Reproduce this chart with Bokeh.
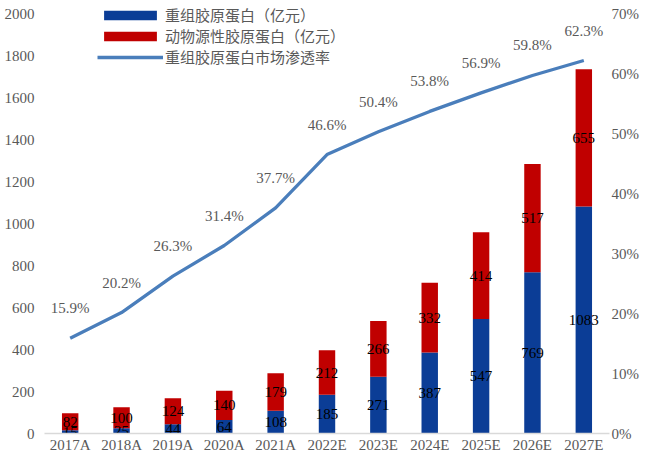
from bokeh.plotting import figure
from bokeh.models import (ColumnDataSource, Range1d, LinearAxis, FixedTicker,
                          PrintfTickFormatter, Legend, LegendItem, FactorRange)
from bokeh.core.properties import value
from bokeh.embed import file_html
from bokeh.resources import INLINE

categories = ["2017A", "2018A", "2019A", "2020A", "2021A", "2022E",
              "2023E", "2024E", "2025E", "2026E", "2027E"]
recombinant = [15, 25, 44, 64, 108, 185, 271, 387, 547, 769, 1083]
animal = [82, 100, 124, 140, 179, 212, 266, 332, 414, 517, 655]
penetration = [15.9, 20.2, 26.3, 31.4, 37.7, 46.6, 50.4, 53.8, 56.9, 59.8, 62.3]

left_ticks = list(range(0, 2001, 200))
right_ticks = list(range(0, 71, 10))

BLUE = "#0b3d96"
RED = "#c00000"
LINE = "#4a7ebb"
GRAY = "#595959"
SERIF = "Liberation Serif"

# layout
W, H = 641, 455
BORDER_BOTTOM = 20
FRAME_H = H - BORDER_BOTTOM
TOP_GAP = 14            # px between frame top and the 2000 tick
Y_MAX = 2000
Y_END = Y_MAX * FRAME_H / (FRAME_H - TOP_GAP)
PCT_MAX = 70
PCT_END = PCT_MAX * Y_END / Y_MAX

tops = [r + a for r, a in zip(recombinant, animal)]
src = ColumnDataSource(dict(
    cat=categories,
    rec=recombinant,
    ani=animal,
    top=tops,
    rec_mid=[r / 2 for r in recombinant],
    ani_mid=[r + a / 2 for r, a in zip(recombinant, animal)],
    rec_lbl=[str(v) for v in recombinant],
    ani_lbl=[str(v) for v in animal],
    pct=penetration,
    pct_lbl=[f"{v:.1f}%" for v in penetration],
))

p = figure(x_range=FactorRange(*categories, range_padding=0),
           y_range=Range1d(0, Y_END),
           width=W, height=H, output_backend="svg", toolbar_location=None,
           min_border_left=44, min_border_right=20, min_border_top=0,
           min_border_bottom=BORDER_BOTTOM)
p.extra_y_ranges = {"pct": Range1d(0, PCT_END)}

p.outline_line_color = None
p.xgrid.grid_line_color = None
p.ygrid.grid_line_color = None
p.background_fill_color = "white"
p.border_fill_color = "white"

bar_w = 0.32
r_rec = p.vbar(x="cat", bottom=0, top="rec", width=bar_w, source=src,
               fill_color=BLUE, line_color=None)
r_ani = p.vbar(x="cat", bottom="rec", top="top", width=bar_w, source=src,
               fill_color=RED, line_color=None)
r_line = p.line(x="cat", y="pct", source=src, y_range_name="pct",
                line_color=LINE, line_width=3.3)

# bar labels
p.text(x="cat", y="rec_mid", text="rec_lbl", source=src,
       text_align="center", text_baseline="middle", text_color="black",
       text_font=value(SERIF), text_font_size="15px")
p.text(x="cat", y="ani_mid", text="ani_lbl", source=src,
       text_align="center", text_baseline="middle", text_color="black",
       text_font=value(SERIF), text_font_size="15px")
# line labels
p.text(x="cat", y="pct", text="pct_lbl", source=src, y_range_name="pct",
       y_offset=-30, text_align="center", text_baseline="middle",
       text_color=GRAY, text_font=value(SERIF), text_font_size="15px")


def style_axis(ax, standoff):
    ax.major_tick_line_color = None
    ax.minor_tick_line_color = None
    ax.major_tick_out = 0
    ax.major_tick_in = 0
    ax.minor_tick_out = 0
    ax.minor_tick_in = 0
    ax.major_label_text_font = SERIF
    ax.major_label_text_font_size = "15px"
    ax.major_label_text_color = GRAY
    ax.major_label_standoff = standoff


xa = p.xaxis[0]
style_axis(xa, 3)
xa.axis_line_color = "#d9d9d9"
xa.axis_line_width = 1.5

ya = p.yaxis[0]
ya.ticker = FixedTicker(ticks=left_ticks)
style_axis(ya, 10)
ya.axis_line_color = None

ra = LinearAxis(y_range_name="pct", ticker=FixedTicker(ticks=right_ticks),
                formatter=PrintfTickFormatter(format="%d%%"))
style_axis(ra, 2)
ra.axis_line_color = None
p.add_layout(ra, "right")

legend = Legend(items=[
    LegendItem(label="重组胶原蛋白（亿元）", renderers=[r_rec]),
    LegendItem(label="动物源性胶原蛋白（亿元）", renderers=[r_ani]),
    LegendItem(label="重组胶原蛋白市场渗透率", renderers=[r_line]),
], location=(53, 366))
legend.glyph_width = 66
legend.glyph_height = 12
legend.label_height = 12
legend.spacing = 0
legend.padding = 0
legend.margin = 0
legend.border_line_color = None
legend.background_fill_alpha = 0
legend.label_text_font = "Noto Sans CJK SC"
legend.label_text_font_size = "15px"
legend.label_text_color = GRAY
legend.label_standoff = 2
p.add_layout(legend, "center")

open("out.html", "w").write(file_html(p, INLINE))
